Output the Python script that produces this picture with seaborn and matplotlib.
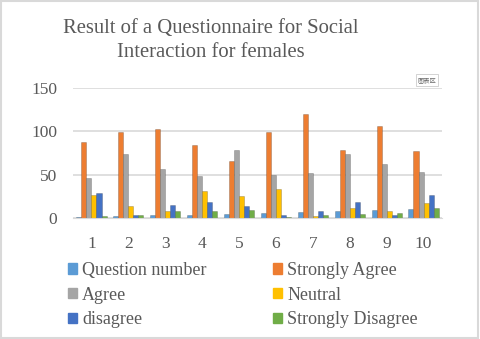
import pandas as pd
import numpy as np
import matplotlib
matplotlib.use("Agg")
import matplotlib.pyplot as plt
import seaborn as sns
from matplotlib.patches import Rectangle

# data
questions = [1, 2, 3, 4, 5, 6, 7, 8, 9, 10]
series_names = ["Question number", "Strongly Agree", "Agree", "Neutral",
                "disagree", "Strongly Disagree"]
question_number = [1, 2, 3, 4, 5, 6, 7, 8, 9, 10]
strongly_agree = [88, 99, 103, 84, 66, 99, 120, 78, 106, 77]
agree = [46, 74, 57, 49, 78, 50, 52, 74, 62, 53]
neutral = [27, 14, 8, 31, 25, 33, 2, 11, 8, 17]
disagree = [29, 3, 15, 19, 14, 4, 8, 18, 4, 27]
strongly_disagree = [2, 3, 8, 8, 9, 1, 4, 5, 6, 12]
colors = ["#5B9BD5", "#ED7D31", "#A5A5A5", "#FFC000", "#4472C4", "#70AD47"]

rows = []
for name, vals in zip(series_names, [question_number, strongly_agree, agree,
                                     neutral, disagree, strongly_disagree]):
    for q, v in zip(questions, vals):
        rows.append({"question": str(q), "series": name, "value": v})
df = pd.DataFrame(rows)

sns.set_style("white")
plt.rcParams["font.family"] = ["Liberation Serif", "DejaVu Serif"]

fig = plt.figure(figsize=(4.8, 3.39), dpi=100)
ax = fig.add_axes([73 / 480, 1 - 218 / 339, 369 / 480, 130 / 339])

sns.barplot(data=df, x="question", y="value", hue="series", palette=colors,
            width=0.82, ax=ax, legend=False, saturation=1)
for p in ax.patches:
    p.set_edgecolor((0, 0, 0, 0.25))
    p.set_linewidth(0.5)

ax.set_ylim(0, 150)
ax.set_xlim(-0.5, 9.5)
ax.set_yticks([0, 50, 100, 150])
ax.yaxis.grid(True, color="#D9D9D9", linewidth=1.2)
ax.set_axisbelow(True)
ax.set_xlabel("")
ax.set_ylabel("")
for s in ["top", "right", "left"]:
    ax.spines[s].set_visible(False)
ax.spines["bottom"].set_color("#D9D9D9")
ax.tick_params(axis="both", length=0, labelsize=12.5, colors="#595959")
ax.tick_params(axis="x", pad=13)
ax.tick_params(axis="y", pad=11.5)

fig.text(211 / 480, 1 - 33 / 339, "Result of a Questionnaire for Social",
         ha="center", va="baseline", fontsize=14.9, color="#595959")
fig.text(211 / 480, 1 - 57 / 339, "Interaction for females",
         ha="center", va="baseline", fontsize=14.9, color="#595959")

# small tooltip box from the source screenshot
fig.text(427 / 480, 1 - 80 / 339, "图表区", ha="center", va="center",
         fontsize=4.5, color="#666666", family=["Noto Sans CJK SC", "DejaVu Sans"],
         bbox=dict(boxstyle="square,pad=0.3", fc="white", ec="#CCCCCC", lw=0.6))

handles = [Rectangle((0, 0), 1, 1, color=c) for c in colors]
order = [0, 2, 4, 1, 3, 5]
fig.legend([handles[i] for i in order], [series_names[i] for i in order],
           ncol=2, loc="upper left", bbox_to_anchor=(68 / 480, 1 - 262 / 339),
           borderpad=0, borderaxespad=0,
           frameon=False, fontsize=13, labelcolor="#595959",
           handlelength=0.5, handleheight=0.5, handletextpad=0.28,
           columnspacing=3.7, labelspacing=0.42)

fig.patches.append(Rectangle((0.002, 0.003), 0.994, 0.994, transform=fig.transFigure,
                             fill=False, ec="#D9D9D9", lw=1.5))

fig.savefig("out.png", dpi=100)
